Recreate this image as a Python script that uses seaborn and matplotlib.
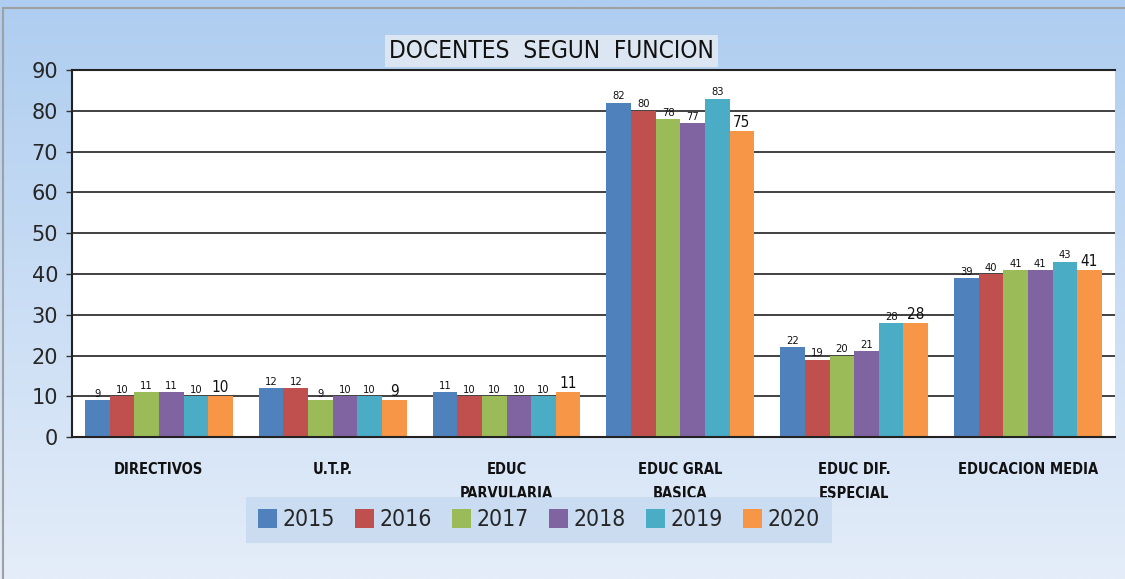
import numpy as np
import pandas as pd
import matplotlib
matplotlib.use("Agg")
import matplotlib.pyplot as plt
import seaborn as sns
from matplotlib.colors import LinearSegmentedColormap

categories = ["DIRECTIVOS", "U.T.P.", "EDUC\nPARVULARIA", "EDUC GRAL\nBASICA",
              "EDUC DIF.\nESPECIAL", "EDUCACION MEDIA"]
years = ["2015", "2016", "2017", "2018", "2019", "2020"]
v2015 = [9, 12, 11, 82, 22, 39]
v2016 = [10, 12, 10, 80, 19, 40]
v2017 = [11, 9, 10, 78, 20, 41]
v2018 = [11, 10, 10, 77, 21, 41]
v2019 = [10, 10, 10, 83, 28, 43]
v2020 = [10, 9, 11, 75, 28, 41]
yticks = list(range(0, 91, 10))
colors = ["#4F81BD", "#C0504D", "#9BBB59", "#8064A2", "#4BACC6", "#F79646"]

series = [v2015, v2016, v2017, v2018, v2019, v2020]
rows = []
for y, vals in zip(years, series):
    for c, v in zip(categories, vals):
        rows.append({"Funcion": c, "Anio": y, "Valor": v})
df = pd.DataFrame(rows)

sns.set_theme(style="white")
plt.rcParams["font.family"] = ["DejaVu Sans"]

fig = plt.figure(figsize=(11.25, 5.79), dpi=100)

# gradient background
bg = fig.add_axes([0, 0, 1, 1], zorder=-10)
cmap = LinearSegmentedColormap.from_list("bg", ["#AECDF0", "#E4EDF9"])
bg.imshow(np.linspace(0, 1, 256).reshape(-1, 1), aspect="auto", cmap=cmap,
          extent=[0, 1, 0, 1], origin="upper")
bg.set_xlim(0, 1); bg.set_ylim(0, 1)
bg.axis("off")
bg.plot([0.003, 0.003], [0, 0.986], color="#A0A0A0", lw=1.5)
bg.plot([0.003, 1], [0.986, 0.986], color="#A0A0A0", lw=1.5)

ax = fig.add_axes([0.064, 0.245, 0.927, 0.634])
ax.set_facecolor("white")
sns.barplot(data=df, x="Funcion", y="Valor", hue="Anio", order=categories,
            hue_order=years, palette=colors, width=0.85, saturation=1,
            edgecolor="none", ax=ax, errorbar=None)

ax.set_ylim(0, 90)
ax.set_yticks(yticks)
ax.set_yticklabels([str(t) for t in yticks], fontsize=15)
ax.yaxis.grid(True, color="#333333", lw=1.3)
ax.set_axisbelow(True)
ax.set_xlabel("")
ax.set_ylabel("")
ax.tick_params(axis="x", length=0, pad=18)
ax.tick_params(axis="y", length=4, width=1, color="#333333", left=True, pad=6)
for lbl in ax.get_xticklabels():
    lbl.set_fontsize(10.5)
    lbl.set_fontweight("bold")
    lbl.set_color("#111111")
    lbl.set_verticalalignment("top")
    lbl.set_linespacing(1.75)
    lbl.set_fontstretch("condensed")
for s in ["left", "bottom", "top"]:
    ax.spines[s].set_color("#222222")
    ax.spines[s].set_linewidth(1.5)
ax.spines["right"].set_visible(False)

for i, cont in enumerate(ax.containers):
    size = 11 if i == 5 else 8
    ax.bar_label(cont, fontsize=size, padding=1, color="#111111",
                 fontstretch="condensed")

leg = ax.legend(loc="center", bbox_to_anchor=(0.479, 0.102),
                bbox_transform=fig.transFigure, ncol=6, frameon=True,
                prop={"size": 16.5, "stretch": "condensed"},
                handlelength=0.85, handleheight=0.85,
                handletextpad=0.25, columnspacing=0.85, borderpad=0.5,
                fancybox=False)
leg.get_frame().set_facecolor("#C6D9F0")
leg.get_frame().set_edgecolor("none")
leg.set_zorder(1)

fig.text(0.49, 0.912, "DOCENTES  SEGUN  FUNCION", ha="center", va="center",
         fontsize=17.5, color="#111111", fontstretch="condensed",
         bbox=dict(facecolor="#DCE6F2", edgecolor="none", pad=3))

fig.savefig("out.png", dpi=100)
